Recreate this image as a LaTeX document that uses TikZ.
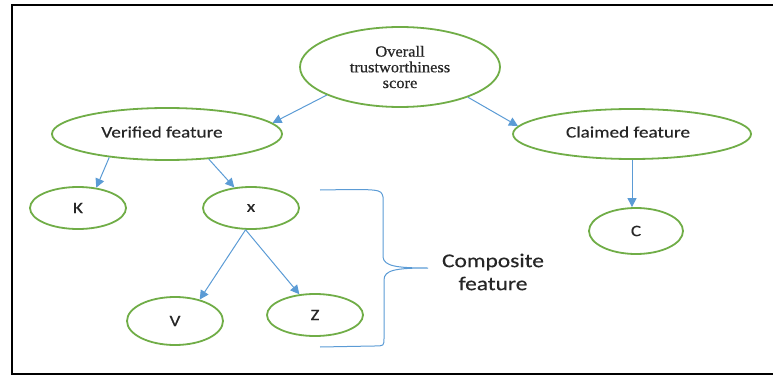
\documentclass[tikz,border=0pt]{standalone}
\usepackage{fontspec}
\setmainfont{Liberation Serif}
\newfontfamily\labelfont[FakeStretch=1.2,FakeBold=0.4]{Carlito}
\newfontfamily\scorefont[FakeStretch=1.06,FakeBold=0.6]{Liberation Serif}
\usetikzlibrary{shapes.geometric,arrows.meta}
\definecolor{nodegreen}{RGB}{112,173,71}
\definecolor{linkblue}{RGB}{91,155,213}
\tikzset{
  oval/.style={ellipse, draw=nodegreen, line width=1.8pt, inner sep=0pt,
    font=\labelfont\fontsize{16}{19}\selectfont, text=black!85},
  caption/.style={font=\labelfont\fontsize{16}{19}\selectfont, text=black!85},
  link/.style={draw=linkblue, line width=1pt,
    -{Triangle[length=9pt,width=9pt]}},
  bracket/.style={draw=linkblue, line width=1pt},
}
\begin{document}
\begin{tikzpicture}[x=1pt,y=-1pt]
  \useasboundingbox (0,0) rectangle (773,377);
  % outer frame
  \draw[line width=1.6pt] (775,5) -- (12,5) -- (12,374) -- (775,374);

  % nodes
  \node[oval, minimum width=200, minimum height=80,
        font=\scorefont\fontsize{15.5}{15.7}\selectfont, align=center]
        (ov) at (400,67) {Overall\\trustworthiness\\score};
  \node[oval, minimum width=230, minimum height=52] (ver) at (167,134) {};
  \node[caption] (vertxt) at (162,132) {Verified feature};
  \node[oval, minimum width=238, minimum height=50] (cla) at (632,134) {};
  \node[caption] (clatxt) at (628,132) {Claimed feature};
  \node[oval, minimum width=96, minimum height=42] (K) at (78,208) {K};
  \node[oval, minimum width=96, minimum height=42] (X) at (251,208) {x};
  \node[oval, minimum width=94, minimum height=46] (C) at (636,231) {C};
  \node[oval, minimum width=96, minimum height=48] (V) at (175,321) {V};
  \node[oval, minimum width=96, minimum height=42] (Z) at (315,315) {Z};

  % connectors
  \draw[link] (ov.201) -- (ver.6);
  \draw[link] (ov.336) -- (cla.176);
  \draw[link] (ver.202) -- (K.48);
  \draw[link] (ver.329) -- (X.129);
  \draw[link] (X.256) -- (V.41);
  \draw[link] (X.256) -- (Z.127);
  \draw[link] (cla.south) -- (cla.south |- C.north);

  % brace grouping x, V and Z
  \draw[bracket] (320,190) .. controls (381,189) .. (383,197) -- (383,257)
    .. controls (384,266) and (396,268) .. (428,268)
    .. controls (396,268) and (384,270) .. (384,280) -- (384,338)
    .. controls (384,346) .. (374,346) -- (320,347);
  \node[caption, font=\labelfont\fontsize{19.5}{23}\selectfont, align=center]
        (comp) at (493,272) {Composite\\feature};
\end{tikzpicture}
\end{document}
